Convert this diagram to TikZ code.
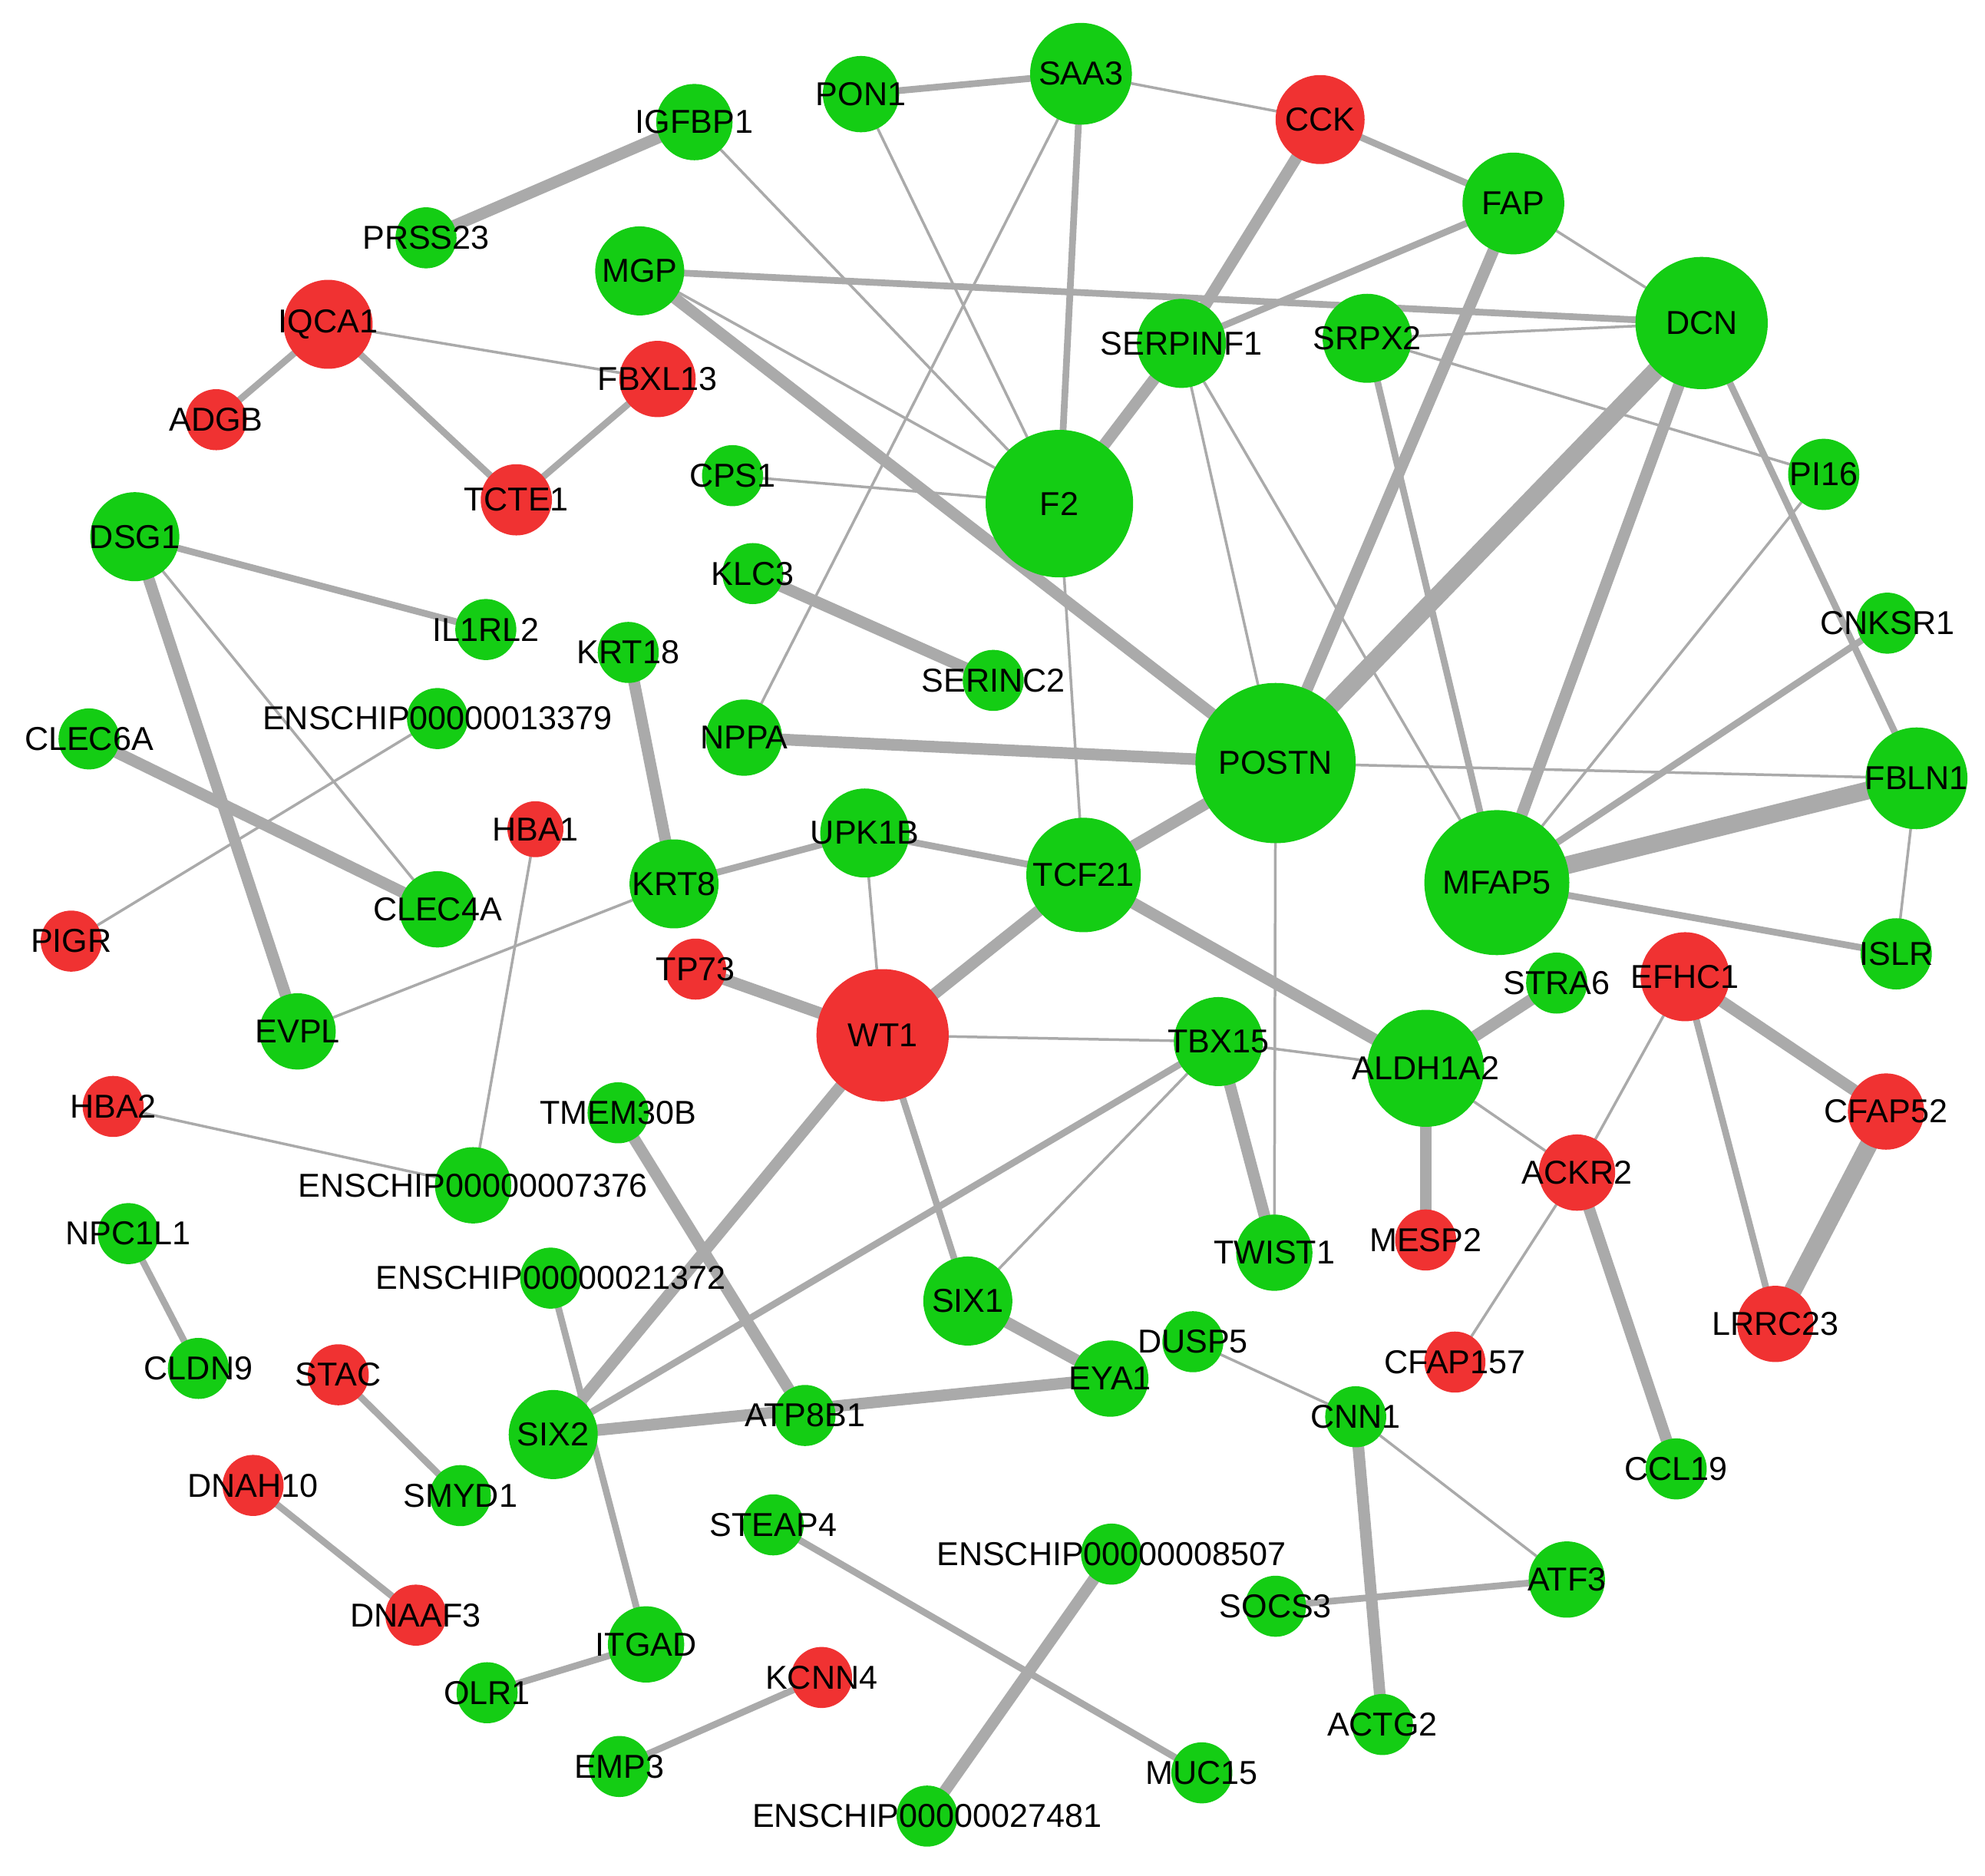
\documentclass[tikz,border=0pt]{standalone}
\usepackage{fontspec}
\setmainfont{Liberation Sans}
\definecolor{gn}{RGB}{20,205,20}
\definecolor{rd}{RGB}{240,50,50}
\definecolor{eg}{RGB}{170,170,170}
\tikzset{
 ethin/.style={draw=eg,line width=0.6pt},
 emed/.style={draw=eg,line width=1.5pt},
 ethick/.style={draw=eg,line width=2.6pt},
 evthick/.style={draw=eg,line width=4pt},
 gene/.style={circle,inner sep=0pt},
 lab/.style={inner sep=0pt,font=\fontsize{7.4}{8}\selectfont}
}
\def\nodelist{SAA3/850/58/40/gn,PON1/677/74/30/gn,IGFBP1/546/96/30/gn,CCK/1038/94/35/rd,FAP/1190/160/40/gn,PRSS23/335/187/24/gn,MGP/503/213/35/gn,DCN/1338/254/52/gn,SERPINF1/929/270/35/gn,SRPX2/1075/266/35/gn,IQCA1/258/255/35/rd,FBXL13/517/298/30/rd,ADGB/170/330/24/rd,TCTE1/406/393/28/rd,CPS1/576/374/24/gn,F2/833/396/58/gn,PI16/1434/373/28/gn,DSG1/106/422/35/gn,KLC3/592/451/24/gn,IL1RL2/382/495/24/gn,KRT18/494/513/24/gn,CNKSR1/1484/490/24/gn,SERINC2/781/535/24/gn,ENSCHIP00000013379/344/565/24/gn,CLEC6A/70/581/24/gn,NPPA/585/580/30/gn,POSTN/1003/600/63/gn,FBLN1/1507/612/40/gn,HBA1/421/652/22/rd,UPK1B/680/655/35/gn,TCF21/852/688/45/gn,MFAP5/1177/694/57/gn,KRT8/530/695/35/gn,CLEC4A/344/715/30/gn,PIGR/56/740/24/rd,ISLR/1491/750/28/gn,TP73/547/762/24/rd,EFHC1/1325/768/35/rd,STRA6/1224/773/24/gn,WT1/694/814/52/rd,EVPL/234/811/30/gn,TBX15/958/819/35/gn,ALDH1A2/1121/840/46/gn,HBA2/89/870/24/rd,TMEM30B/486/875/24/gn,CFAP52/1483/874/30/rd,ACKR2/1240/922/30/rd,ENSCHIP00000007376/372/932/30/gn,NPC1L1/101/970/24/gn,MESP2/1121/975/24/rd,TWIST1/1002/985/30/gn,ENSCHIP00000021372/433/1005/24/gn,SIX1/761/1023/35/gn,LRRC23/1396/1041/30/rd,DUSP5/938/1055/24/gn,CFAP157/1144/1071/24/rd,EYA1/873/1084/30/gn,CLDN9/156/1076/24/gn,STAC/266/1081/24/rd,SIX2/435/1128/35/gn,ATP8B1/633/1113/24/gn,CNN1/1066/1114/24/gn,CCL19/1318/1155/24/gn,DNAH10/199/1168/24/rd,SMYD1/362/1176/24/gn,STEAP4/608/1199/24/gn,ENSCHIP00000008507/874/1222/24/gn,ATF3/1232/1242/30/gn,SOCS3/1003/1263/24/gn,DNAAF3/327/1270/24/rd,ITGAD/508/1293/30/gn,OLR1/383/1331/24/gn,KCNN4/646/1319/24/rd,ACTG2/1087/1356/24/gn,EMP3/487/1389/24/gn,MUC15/945/1394/24/gn,ENSCHIP00000027481/729/1428/24/gn}
\begin{document}
\begin{tikzpicture}
\useasboundingbox (0,0) rectangle (15.6,-14.74);
\foreach \n/\x/\y/\r/\c in \nodelist { \coordinate (\n) at (\x*0.01,-\y*0.01); }
\foreach \a/\b in {SAA3/CCK,SAA3/NPPA,PON1/F2,IGFBP1/F2,FAP/DCN,MGP/F2,SRPX2/DCN,SRPX2/PI16,SERPINF1/POSTN,SERPINF1/MFAP5,IQCA1/FBXL13,CPS1/F2,F2/TCF21,DSG1/CLEC4A,ENSCHIP00000013379/PIGR,POSTN/FBLN1,POSTN/TWIST1,PI16/MFAP5,FBLN1/ISLR,HBA1/ENSCHIP00000007376,KRT8/EVPL,UPK1B/WT1,WT1/TBX15,TBX15/ALDH1A2,TBX15/SIX1,ALDH1A2/ACKR2,EFHC1/ACKR2,ACKR2/CFAP157,HBA2/ENSCHIP00000007376,DUSP5/CNN1,CNN1/ATF3}
  \draw[ethin] (\a)--(\b);
\foreach \a/\b in {PON1/SAA3,SAA3/F2,CCK/FAP,FAP/SERPINF1,MGP/DCN,SRPX2/MFAP5,DCN/FBLN1,IQCA1/ADGB,IQCA1/TCTE1,FBXL13/TCTE1,DSG1/IL1RL2,CNKSR1/MFAP5,MFAP5/ISLR,KRT8/UPK1B,UPK1B/TCF21,WT1/SIX1,TBX15/SIX2,EFHC1/LRRC23,NPC1L1/CLDN9,ENSCHIP00000021372/ITGAD,SOCS3/ATF3,STAC/SMYD1,DNAH10/DNAAF3,STEAP4/MUC15,OLR1/ITGAD,KCNN4/EMP3}
  \draw[emed] (\a)--(\b);
\foreach \a/\b in {IGFBP1/PRSS23,CCK/SERPINF1,SERPINF1/F2,FAP/POSTN,MGP/POSTN,DCN/MFAP5,KLC3/SERINC2,DSG1/EVPL,KRT18/KRT8,CLEC6A/CLEC4A,NPPA/POSTN,POSTN/TCF21,TCF21/WT1,TCF21/ALDH1A2,TP73/WT1,WT1/SIX2,TBX15/TWIST1,ALDH1A2/STRA6,ALDH1A2/MESP2,EFHC1/CFAP52,ACKR2/CCL19,TMEM30B/ATP8B1,SIX1/EYA1,SIX2/EYA1,CNN1/ACTG2,ENSCHIP00000008507/ENSCHIP00000027481}
  \draw[ethick] (\a)--(\b);
\foreach \a/\b in {DCN/POSTN,FBLN1/MFAP5,CFAP52/LRRC23}
  \draw[evthick] (\a)--(\b);
\foreach \n/\x/\y/\r/\c in \nodelist {
  \fill[\c] (\n) circle ({\r*0.01});
  \node[lab] at (\n) {\n};
}
\end{tikzpicture}
\end{document}
